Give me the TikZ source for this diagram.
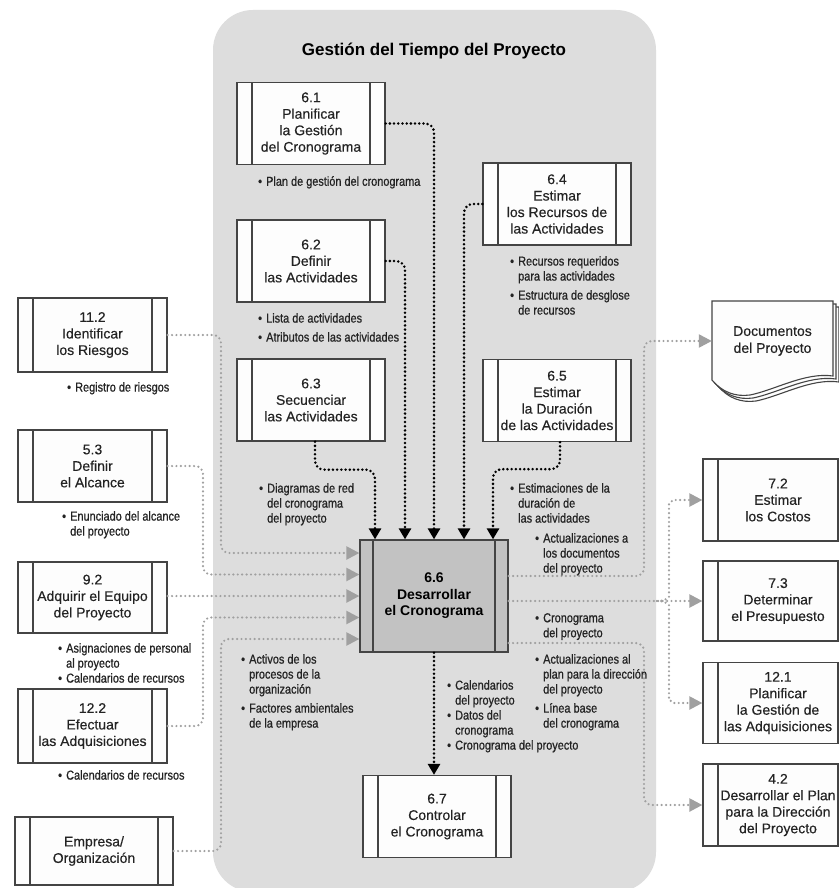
\documentclass[tikz,border=0pt]{standalone}
\usepackage{fontspec}
\setmainfont{Liberation Sans}
\newfontfamily\notefont[FakeStretch=0.84,FakeBold=0.7]{Liberation Sans}
\newfontfamily\boxfont[FakeBold=0.35]{Liberation Sans}
\usetikzlibrary{arrows.meta}

\definecolor{panel}{RGB}{221,221,221}
\definecolor{boxline}{RGB}{68,68,68}
\definecolor{boxfill}{RGB}{253,253,253}
\definecolor{corefill}{RGB}{194,194,194}
\definecolor{flowgray}{RGB}{160,160,160}
\definecolor{inktext}{RGB}{35,35,35}

% bullet and hanging indent for the data lists
\newcommand\nbul{\makebox[8pt][l]{\textbullet}}
\newcommand\nind{\hspace*{8pt}}

\tikzset{
  procbox/.style={draw=boxline, line width=1.3pt, fill=boxfill,
    minimum width=148pt, minimum height=82pt, inner sep=0pt,
    align=center, text=inktext, font=\boxfont\fontsize{14}{16.5}\selectfont,
    path picture={\draw[boxline, line width=1.3pt]
      ([xshift=#1]path picture bounding box.north west) -- ([xshift=#1]path picture bounding box.south west)
      ([xshift=-#1]path picture bounding box.north east) -- ([xshift=-#1]path picture bounding box.south east);}},
  procbox/.default=15pt,
  notes/.style={anchor=north west, inner sep=0pt, align=left, text=inktext,
    font=\notefont\fontsize{13}{15}\selectfont},
  blackflow/.style={draw=black, line width=2.8pt, line cap=round,
    dash pattern=on 0pt off 4.2pt, rounded corners=9pt,
    -{Triangle[width=12pt,length=11pt]}},
  grayflow/.style={draw=flowgray, line width=2.4pt, line cap=round,
    dash pattern=on 0pt off 4.4pt, rounded corners=8pt,
    -{Triangle[width=13pt,length=13pt]}},
}

\begin{document}
\begin{tikzpicture}[x=1pt,y=-1pt]
\useasboundingbox (0,0) rectangle (838,888);
\fill[white] (0,0) rectangle (838,888);

% process group panel
\fill[panel, rounded corners=40pt] (213,10) rectangle (656,892);
\node[font=\bfseries\fontsize{17}{20}\selectfont, text=black] (title) at (434,51) {Gestión del Tiempo del Proyecto};

% processes inside the group
\node[procbox] (n61) at (311,123.5) {6.1\\Planificar\\la Gestión\\del Cronograma};
\node[procbox] (n62) at (311,261) {6.2\\Definir\\las Actividades};
\node[procbox] (n63) at (311,400) {6.3\\Secuenciar\\las Actividades};
\node[procbox] (n64) at (557,204) {6.4\\Estimar\\los Recursos de\\las Actividades};
\node[procbox] (n65) at (557,400.5) {6.5\\Estimar\\la Duración\\de las Actividades};
\node[procbox=13pt, fill=corefill, minimum height=112pt, text=black,
      font=\bfseries\fontsize{14}{16.5}\selectfont] (n66) at (434,596) {6.6\\Desarrollar\\el Cronograma};
\node[procbox] (n67) at (437,816.5) {6.7\\Controlar\\el Cronograma};

% processes on the left
\node[procbox, minimum width=149pt, minimum height=74pt] (n112) at (92.5,335) {11.2\\Identificar\\los Riesgos};
\node[procbox, minimum width=149pt, minimum height=72pt] (n53) at (92.5,466) {5.3\\Definir\\el Alcance};
\node[procbox, minimum width=149pt, minimum height=71pt] (n92) at (92.5,597.5) {9.2\\Adquirir el Equipo\\del Proyecto};
\node[procbox, minimum width=149pt, minimum height=74pt] (n122) at (92.5,726) {12.2\\Efectuar\\las Adquisiciones};
\node[procbox, minimum width=158pt, minimum height=68pt] (nemp) at (94,851) {Empresa/\\Organización};

% processes on the right
\node[procbox, minimum width=150pt] (n72) at (778,500) {7.2\\Estimar\\los Costos};
\node[procbox, minimum width=150pt, minimum height=80pt] (n73) at (778,601) {7.3\\Determinar\\el Presupuesto};
\node[procbox, minimum width=150pt, minimum height=81pt] (n121) at (778,703) {12.1\\Planificar\\la Gestión de\\las Adquisiciones};
\node[procbox, minimum width=150pt] (n42) at (778,805) {4.2\\Desarrollar el Plan\\para la Dirección\\del Proyecto};

% stacked project documents
\begin{scope}[shift={(712,301)}]
  \foreach \d in {6,3,0}{
    \filldraw[fill=boxfill, draw=boxline, line width=1.1pt]
      (\d,\d) -- (121+\d,\d) -- (121+\d,75+\d)
      .. controls (93+\d,71+\d) and (63+\d,89+\d) .. (38+\d,94+\d)
      .. controls (23+\d,96+\d) and (10+\d,91+\d) .. (\d,79+\d) -- cycle;
  }
\end{scope}
\node[minimum width=121pt, minimum height=78pt, inner sep=0pt, align=center,
      text=inktext, font=\boxfont\fontsize{14}{17}\selectfont] (ndoc) at (772.5,341) {Documentos\\del Proyecto};

% internal flows into 6.6
\draw[blackflow] (n61.east) -| (n66.north);
\draw[blackflow] (n62.east) -| ([xshift=-29pt]n66.north);
\draw[blackflow] ([xshift=4pt]n63.south) -- ++(0,28) -| ([xshift=-59pt]n66.north);
\draw[blackflow] (n64.west) -| ([xshift=30pt]n66.north);
\draw[blackflow] ([xshift=3pt]n65.south) -- ++(0,27) -| ([xshift=59pt]n66.north);
\draw[blackflow] (n66.south) -- (n66.south |- n67.north);

% external inputs
\draw[grayflow] (n112.east) -| (221,553) -- ([yshift=43pt]n66.west);
\draw[grayflow] (n53.east) -| (203,574.5) -- ([yshift=21.5pt]n66.west);
\draw[grayflow] (n92.east |- n66.west) -- (n66.west);
\draw[grayflow] (n122.east) -| (203,617.5) -- ([yshift=-21.5pt]n66.west);
\draw[grayflow] (nemp.east) -| (221,639) -- ([yshift=-43pt]n66.west);

% external outputs
\draw[grayflow] ([yshift=20pt]n66.east) -| (644,341) -- (ndoc.west);
\draw[grayflow] ([yshift=-5pt]n66.east) -- (n73.west);
\coordinate (split) at (657,601);
\draw[grayflow] (split) .. controls (666,601) and (669,597) .. (669,589) -- (669,512)
  .. controls (669,504) and (673,500) .. (681,500) -- (n72.west);
\draw[grayflow] (split) .. controls (666,601) and (669,605) .. (669,613) -- (669,692)
  .. controls (669,699) and (673,703) .. (681,703) -- (n121.west);
\draw[grayflow] ([yshift=-47pt]n66.east) -| (644,805) -- (n42.west);

% data lists
\node[notes] (t61) at (258,176) {\nbul Plan de gestión del cronograma};
\node[notes] (t62) at (258,313) {\nbul Lista de actividades\\[4pt]\nbul Atributos de las actividades};
\node[notes] (t64) at (510,256) {\nbul Recursos requeridos\\\nind para las actividades\\[4pt]\nbul Estructura de desglose\\\nind de recursos};
\node[notes] (t63) at (259,483) {\nbul Diagramas de red\\\nind del cronograma\\\nind del proyecto};
\node[notes] (t65) at (510,483) {\nbul Estimaciones de la\\\nind duración de\\\nind las actividades};
\node[notes] (t66a) at (535,533) {\nbul Actualizaciones a\\\nind los documentos\\\nind del proyecto};
\node[notes] (t66b) at (535,613) {\nbul Cronograma\\\nind del proyecto};
\node[notes] (t66c) at (535,654) {\nbul Actualizaciones al\\\nind plan para la dirección\\\nind del proyecto\\[4pt]\nbul Línea base\\\nind del cronograma};
\node[notes] (t66d) at (447,680) {\nbul Calendarios\\\nind del proyecto\\\nbul Datos del\\\nind cronograma\\\nbul Cronograma del proyecto};
\node[notes] (t66e) at (241,654) {\nbul Activos de los\\\nind procesos de la\\\nind organización\\[4pt]\nbul Factores ambientales\\\nind de la empresa};
\node[notes] (t112) at (67,382) {\nbul Registro de riesgos};
\node[notes] (t53) at (62,511) {\nbul Enunciado del alcance\\\nind del proyecto};
\node[notes] (t92) at (58,643) {\nbul Asignaciones de personal\\\nind al proyecto\\\nbul Calendarios de recursos};
\node[notes] (t122) at (58,770) {\nbul Calendarios de recursos};
\end{tikzpicture}
\end{document}
